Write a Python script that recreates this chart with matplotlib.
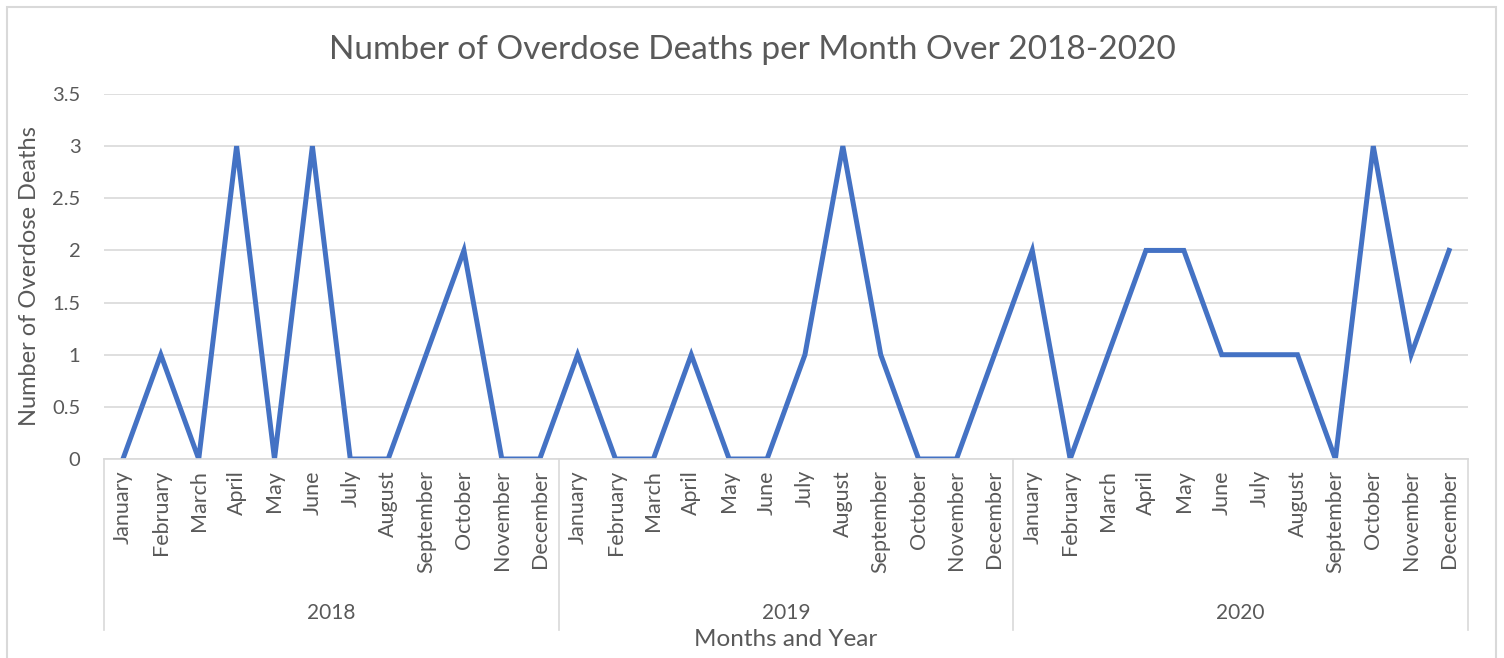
import matplotlib.pyplot as plt
from matplotlib.patches import Rectangle
import matplotlib.transforms as mtransforms

months = ['January', 'February', 'March', 'April', 'May', 'June', 'July',
          'August', 'September', 'October', 'November', 'December']
years = ['2018', '2019', '2020']
deaths_2018 = [0, 1, 0, 3, 0, 3, 0, 0, 1, 2, 0, 0]
deaths_2019 = [1, 0, 0, 1, 0, 0, 1, 3, 1, 0, 0, 1]
deaths_2020 = [2, 0, 1, 2, 2, 1, 1, 1, 0, 3, 1, 2]

plt.rcParams['font.family'] = ['Lato', 'DejaVu Sans']
txt = '#595959'
grid = '#D9D9D9'

values = deaths_2018 + deaths_2019 + deaths_2020
labels = months * len(years)
x = list(range(len(values)))

fig = plt.figure(figsize=(15.04, 6.58), dpi=100)
ax = fig.add_axes([104 / 1504, 1 - 459 / 658, (1468 - 104) / 1504, 365 / 658])

ax.plot(x, values, color='#4472C4', lw=3.6, solid_joinstyle='miter')

ax.set_xlim(-0.5, len(values) - 0.5)
ax.set_ylim(0, 3.5)
ax.set_yticks([0, 0.5, 1, 1.5, 2, 2.5, 3, 3.5])
ax.set_yticklabels(['0', '0.5', '1', '1.5', '2', '2.5', '3', '3.5'])
ax.yaxis.grid(True, color=grid, lw=1.2)
ax.set_axisbelow(True)
for s in ['left', 'right', 'top']:
    ax.spines[s].set_visible(False)
ax.spines['bottom'].set_color(grid)
ax.spines['bottom'].set_linewidth(1.2)
ax.tick_params(axis='y', length=0, pad=17, labelsize=14.5, labelcolor=txt)

ax.set_xticks(x)
ax.set_xticklabels(labels, rotation=90, va='top')
ax.tick_params(axis='x', length=0, pad=8, labelsize=15.5, labelcolor=txt)

# year group separators and labels
trans = mtransforms.blended_transform_factory(ax.transData, ax.transAxes)
low = -(630 - 459) / 365
for k in range(len(years) + 1):
    xs = k * 12 - 0.5
    ax.plot([xs, xs], [0, low], color=grid, lw=1.2, transform=trans, clip_on=False)
for k, yr in enumerate(years):
    ax.text(k * 12 + 5.5, -(613 - 459) / 365, yr, transform=trans, ha='center',
            va='center', fontsize=15, color=txt)

ax.text(0.5, -(640 - 459) / 365, 'Months and Year', transform=ax.transAxes,
        ha='center', va='center', fontsize=17.5, color=txt)
fig.text(30 / 1504, 1 - 276 / 658, 'Number of Overdose Deaths', rotation=90,
         ha='center', va='center', fontsize=17, color=txt)
fig.text(752 / 1504, 1 - 50 / 658, 'Number of Overdose Deaths per Month Over 2018-2020',
         ha='center', va='center', fontsize=24, color=txt)

fig.patches.append(Rectangle((7 / 1504, -0.05), (1496 - 7) / 1504, 1.05 - 7 / 658,
                             transform=fig.transFigure, fill=False,
                             edgecolor=grid, lw=1.5))

fig.savefig('out.png', dpi=100, facecolor='white')
